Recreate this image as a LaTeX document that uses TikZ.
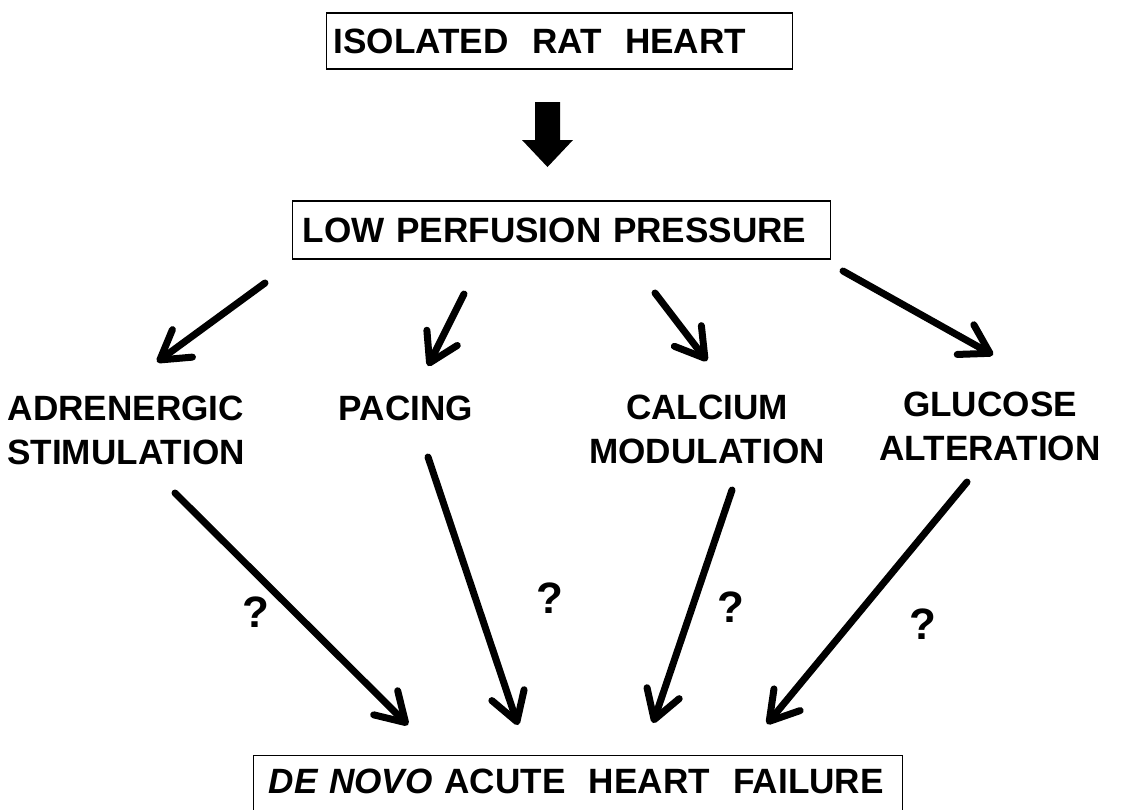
\documentclass[tikz,border=0pt]{standalone}
\usepackage{fontspec}
\setmainfont{Liberation Sans}
\usetikzlibrary{arrows.meta}
\tikzset{
  box/.style={draw, line width=0.8pt, inner ysep=0pt, align=left, anchor=west, font=\bfseries\fontsize{20}{25}\selectfont},
  lab/.style={align=center, inner sep=0pt, font=\bfseries\fontsize{20}{25}\selectfont},
  qm/.style={inner sep=0pt, font=\bfseries\fontsize{25}{28}\selectfont},
  arr/.style={line width=0.14cm, line cap=round, -{Straight Barb[length=0.56cm,width=0.68cm,round]}}
}
\begin{document}
\begin{tikzpicture}[x=0.02cm,y=-0.02cm]
\clip (0,0) rectangle (1121,809);
\node[box, inner xsep=0.14cm, text width=9.04cm, minimum height=1.12cm] (heart) at (326,41) {ISOLATED~~RAT~~HEART};
\node[box, inner xsep=0.2cm, text width=10.36cm, minimum height=1.16cm] (press) at (292,230) {LOW PERFUSION PRESSURE};
\node[box, anchor=north west, inner xsep=0.3cm, text width=12.38cm, text height=0.76cm, text depth=0.44cm] (fail) at (253,755) {\textit{DE NOVO} ACUTE~~HEART~~FAILURE};
\coordinate (blk) at (547.5,102);
\fill (blk) ++(-12.5,0) -- ++(25,0) -- ++(0,38) -- ++(13,0) -- ++(-25.5,27) -- ++(-25.5,-27) -- ++(13,0) -- cycle;
\node[lab] (adr) at (126,430) {ADRENERGIC\\STIMULATION};
\node[lab] (pac) at (406,408) {PACING};
\node[lab] (calc) at (707,429) {CALCIUM\\MODULATION};
\node[lab] (gluc) at (990,426) {GLUCOSE\\ALTERATION};
% from the perfusion box down to the four interventions
\coordinate (p1) at (265,283); \coordinate (t1) at (157,362);
\coordinate (p2) at (464,294); \coordinate (t2) at (428,366);
\coordinate (p3) at (655,293); \coordinate (t3) at (707,361);
\coordinate (p4) at (843,271); \coordinate (t4) at (993,355);
\draw[arr] (p1)--(t1);
\draw[arr] (p2)--(t2);
\draw[arr] (p3)--(t3);
\draw[arr] (p4)--(t4);
% from the interventions to failure
\coordinate (s1) at (175,493); \coordinate (f1) at (408,725);
\coordinate (s2) at (428,457); \coordinate (f2) at (518,725);
\coordinate (s3) at (732,490); \coordinate (f3) at (653,723);
\coordinate (s4) at (967,482); \coordinate (f4) at (767,724);
\draw[arr] (s1)--(f1);
\draw[arr] (s2)--(f2);
\draw[arr] (s3)--(f3);
\draw[arr] (s4)--(f4);
\node[qm] (q1) at (256,612) {?};
\node[qm] (q2) at (550,598) {?};
\node[qm] (q3) at (731,607) {?};
\node[qm] (q4) at (923,624) {?};
\end{tikzpicture}
\end{document}
